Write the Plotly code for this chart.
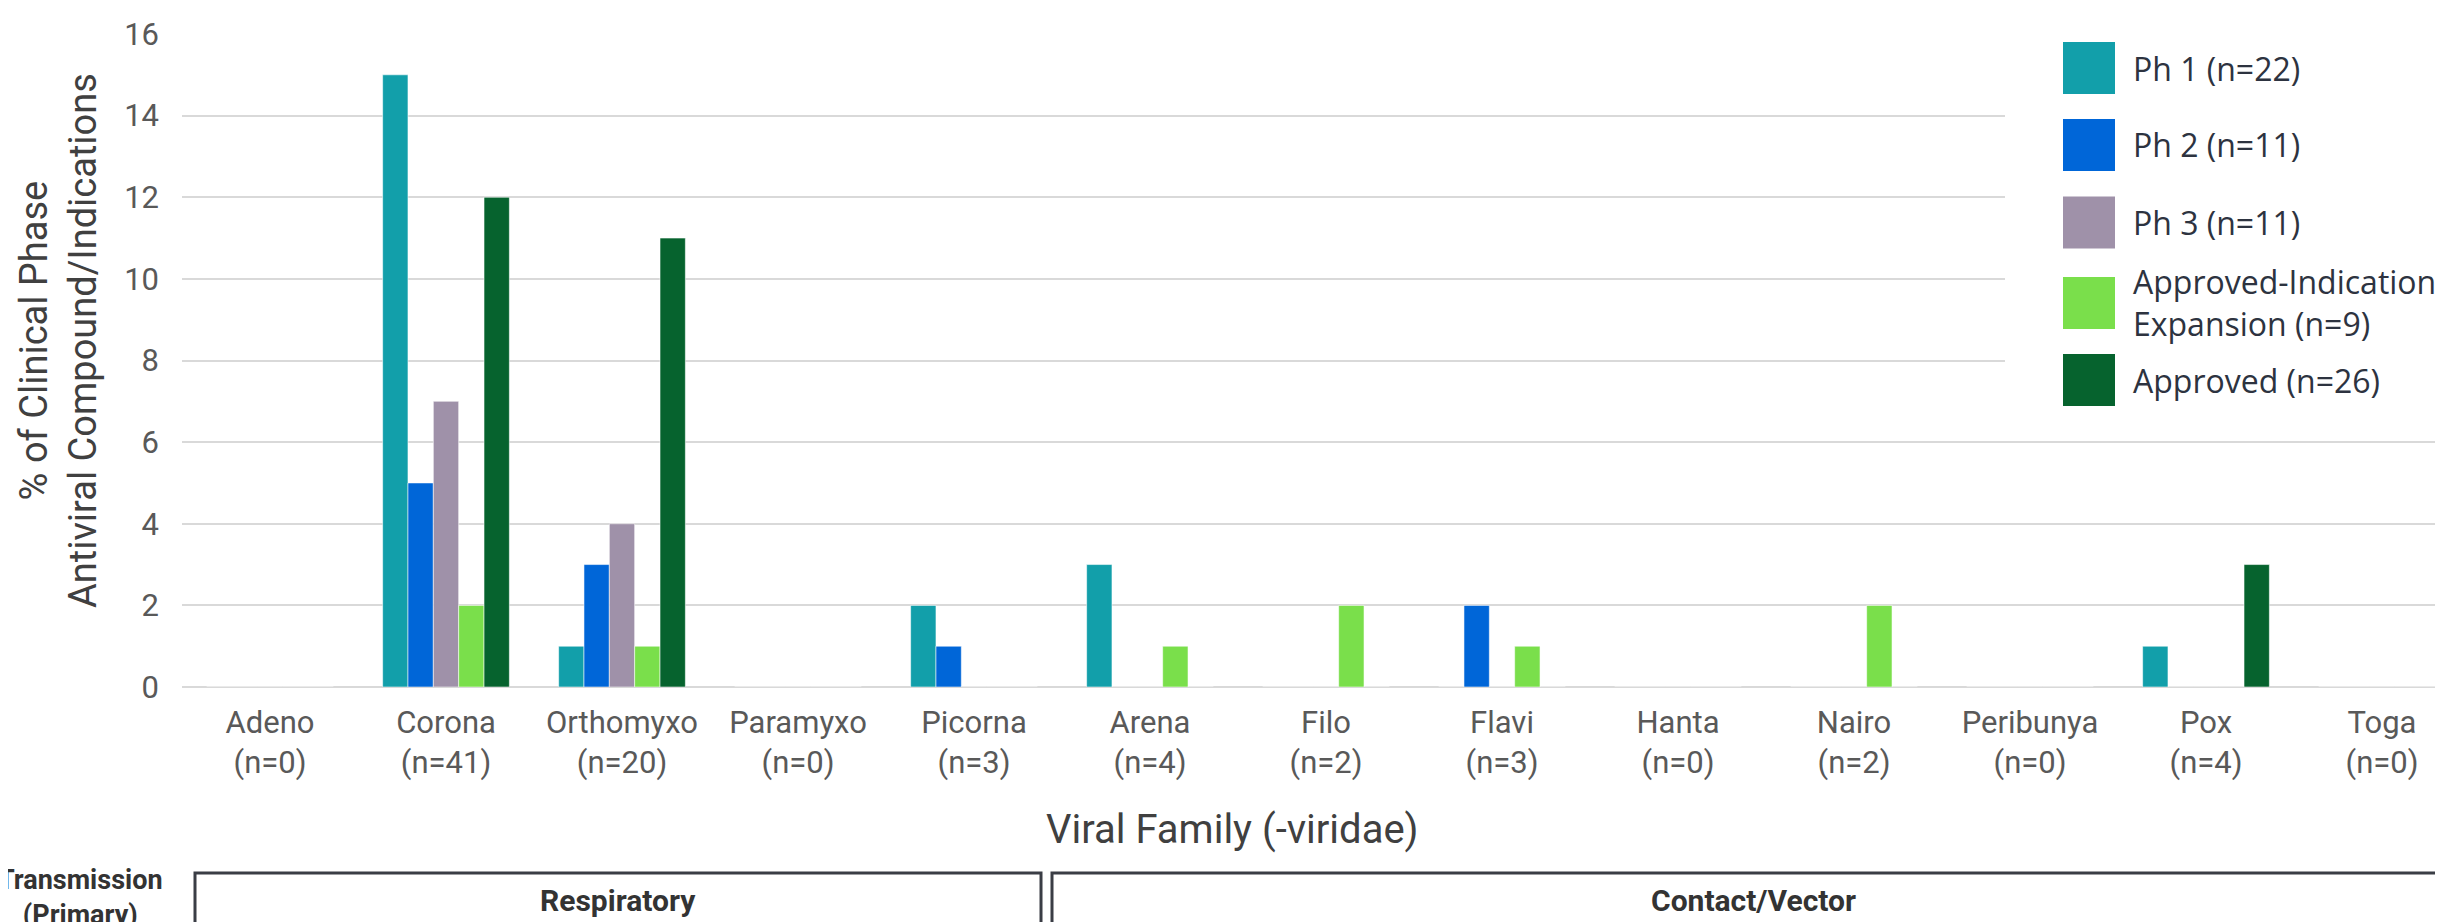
import plotly.graph_objects as go

# ---------------- data ----------------
families = ["Adeno", "Corona", "Orthomyxo", "Paramyxo", "Picorna", "Arena", "Filo",
            "Flavi", "Hanta", "Nairo", "Peribunya", "Pox", "Toga"]
family_n = [0, 41, 20, 0, 3, 4, 2, 3, 0, 2, 0, 4, 0]

series_names = ["Ph 1 (n=22)", "Ph 2 (n=11)", "Ph 3 (n=11)",
                "Approved-Indication<br>Expansion (n=9)", "Approved (n=26)"]
ph1 = [0, 15, 1, 0, 2, 3, 0, 0, 0, 0, 0, 1, 0]
ph2 = [0, 5, 3, 0, 1, 0, 0, 2, 0, 0, 0, 0, 0]
ph3 = [0, 7, 4, 0, 0, 0, 0, 0, 0, 0, 0, 0, 0]
expansion = [0, 2, 1, 0, 0, 1, 2, 1, 0, 2, 0, 0, 0]
approved = [0, 12, 11, 0, 0, 0, 0, 0, 0, 0, 0, 3, 0]
series_values = [ph1, ph2, ph3, expansion, approved]
colors = ["#129FAA", "#0066D8", "#9F91A9", "#7ADF4B", "#06632E"]

y_ticks = [0, 2, 4, 6, 8, 10, 12, 14, 16]
transmission_groups = ["Respiratory", "Contact/Vector"]

# ---------------- geometry (pixels) ----------------
W, H = 2443, 922
ML, MR, MT, MB = 174, 0, 26, 243
PW = W - ML - MR
PH = H - MT - MB
CAT_PX = 176.0


def px(x):
    return (x - ML) / PW


def py(y):
    return (H - MB - y) / PH


tick_text = [f"{f}<br>(n={n})" for f, n in zip(families, family_n)]

fig = go.Figure()
for name, vals, col in zip(series_names, series_values, colors):
    fig.add_trace(go.Bar(
        x=families, y=vals, name=name, showlegend=False,
        marker=dict(color=col, line=dict(color="rgba(255,255,255,0.55)", width=1)),
    ))

shapes = []
annotations = []

# legend backdrop (hides gridlines behind legend)
shapes.append(dict(type="rect", xref="paper", yref="paper",
                   x0=px(1997), x1=px(W + 5), y0=py(418), y1=py(-5),
                   fillcolor="white", line=dict(width=0), layer="above"))

legend_centers = [60, 137, 214.5, 295, 372]
for name, col, cy in zip(series_names, colors, legend_centers):
    shapes.append(dict(type="rect", xref="paper", yref="paper",
                       x0=px(2055), x1=px(2107), y0=py(cy + 26), y1=py(cy - 26),
                       fillcolor=col, line=dict(width=0), layer="above"))
    annotations.append(dict(x=px(2123), y=py(cy), xref="paper", yref="paper",
                            text=name, showarrow=False, xanchor="left",
                            yanchor="middle", align="left",
                            font=dict(family="Open Sans", size=32, color="#2D3340")))

# axis titles
annotations.append(dict(x=px(50), y=py(333), xref="paper", yref="paper",
                        text="% of Clinical Phase<br>Antiviral Compound/Indications",
                        showarrow=False, textangle=-90, xanchor="center", yanchor="middle",
                        font=dict(family="Roboto", size=38, color="#404040")))
annotations.append(dict(x=px(1224), y=py(821), xref="paper", yref="paper",
                        text="Viral Family (-viridae)", showarrow=False,
                        xanchor="center", yanchor="middle",
                        font=dict(family="Roboto", size=40, color="#404040")))

# transmission boxes
boxes = [(187, 1033), (1044, 2447)]
for (x0, x1), label in zip(boxes, transmission_groups):
    shapes.append(dict(type="rect", xref="paper", yref="paper",
                       x0=px(x0), x1=px(x1), y0=py(919), y1=py(865),
                       fillcolor="rgba(0,0,0,0)", line=dict(color="#3A3D45", width=3)))
    annotations.append(dict(x=px((x0 + min(x1, 2446)) / 2), y=py(892), xref="paper",
                            yref="paper", text=f"<b>{label}</b>", showarrow=False,
                            xanchor="center", yanchor="middle",
                            font=dict(family="Roboto", size=30, color="#333333")))
annotations.append(dict(x=px(72), y=py(889), xref="paper", yref="paper",
                        text="<b>Transmission<br>(Primary)</b>", showarrow=False,
                        xanchor="center", yanchor="middle",
                        font=dict(family="Roboto", size=27, color="#333333")))

fig.update_layout(
    width=W, height=H,
    margin=dict(l=ML, r=MR, t=MT, b=MB, pad=0),
    paper_bgcolor="white", plot_bgcolor="white",
    barmode="group", bargap=0.28, bargroupgap=0,
    showlegend=False,
    shapes=shapes, annotations=annotations,
    xaxis=dict(
        type="category", range=[-0.5, -0.5 + PW / CAT_PX],
        tickmode="array", tickvals=families, ticktext=tick_text,
        tickfont=dict(family="Roboto", size=31, color="#595959"),
        showgrid=False, showline=False, zeroline=False, ticks="",
        ticklabelstandoff=14,
    ),
    yaxis=dict(
        range=[0, 16], tickmode="array", tickvals=y_ticks,
        tickfont=dict(family="Roboto", size=31, color="#595959"),
        showgrid=True, gridcolor="#D9D9D9", gridwidth=2,
        zeroline=True, zerolinecolor="#D9D9D9", zerolinewidth=2,
        showline=False, ticks="", ticklabelstandoff=22,
    ),
)

fig.write_html("out.html")
